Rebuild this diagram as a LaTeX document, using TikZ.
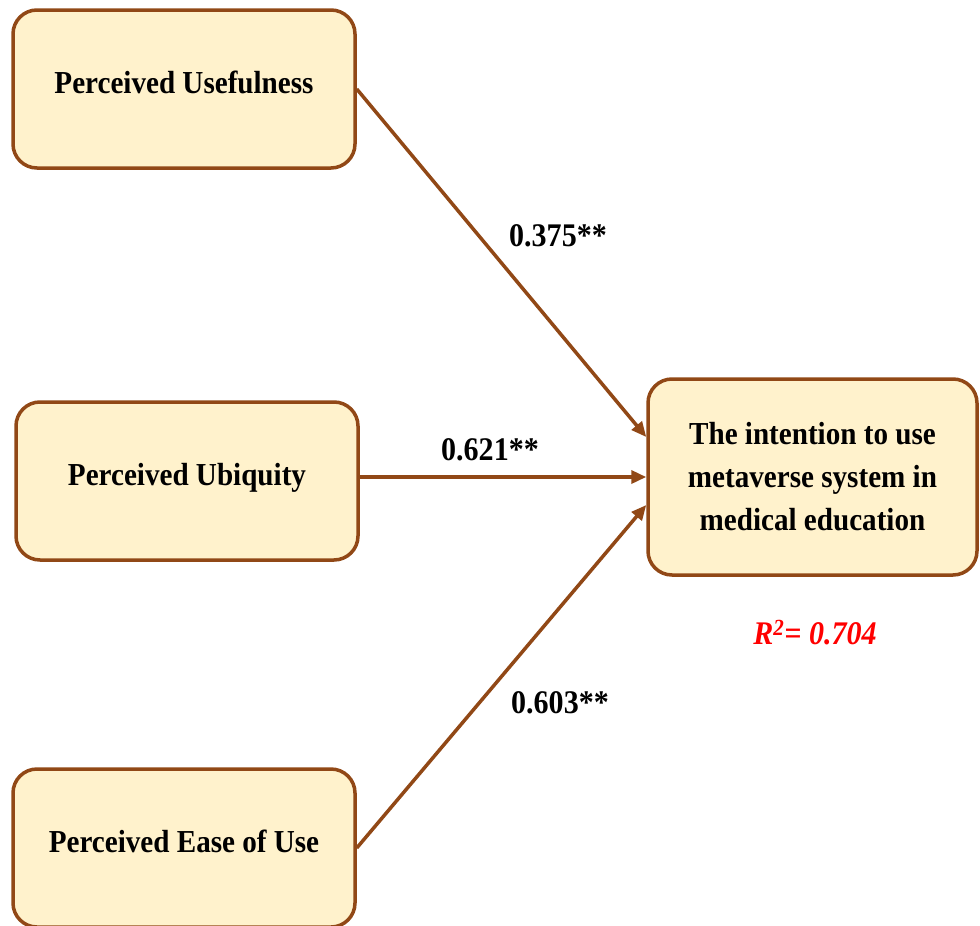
\documentclass[tikz,border=0pt]{standalone}
\usepackage{fontspec}
\setmainfont{Liberation Serif}[FakeStretch=0.91]
\usetikzlibrary{arrows.meta}
\definecolor{boxedge}{RGB}{145,72,22}
\definecolor{boxfill}{RGB}{255,242,204}
\definecolor{rsqred}{RGB}{255,0,0}
\tikzset{every path/.style={boxedge, line width=3.5pt},
  construct/.style={draw, fill=boxfill, rounded corners=24pt, inner sep=0pt, text=black,
    text depth=13pt, minimum width=342pt, minimum height=158pt,
    font=\fontsize{32}{43}\selectfont\bfseries},
  effect/.style={-{Triangle[length=15pt,width=13pt]}},
  coef/.style={text=black, font=\fontsize{33}{40}\selectfont\bfseries}}

\begin{document}
\begin{tikzpicture}[x=1pt, y=-1pt]
   \useasboundingbox (0,0) rectangle (980,926);
   \node[construct] (pu)   at (184, 89)  {Perceived Usefulness};
   \node[construct] (pubq) at (187,481)  {Perceived Ubiquity};
   \node[construct] (peou) at (184,848)  {Perceived Ease of Use};
   \node[construct, text depth=, minimum width=329pt, minimum height=196pt, align=center] (iu)
     at (812.5,477) {The intention to use\\metaverse system in\\medical education};
   \draw[effect] (pu.east)   -- ([yshift=40pt]iu.west);
   \draw[effect] ([yshift=4pt]pubq.east) -- (iu.west);
   \draw[effect] (peou.east) -- ([yshift=-28pt]iu.west);
   \node[coef] (b1) at (558,236) {0.375**};
   \node[coef] (b2) at (490,450) {0.621**};
   \node[coef] (b3) at (560,703) {0.603**};
   \node[coef, text=rsqred] (r2) at (815,633) {\itshape R\textsuperscript{2}= 0.704};
\end{tikzpicture}
\end{document}
